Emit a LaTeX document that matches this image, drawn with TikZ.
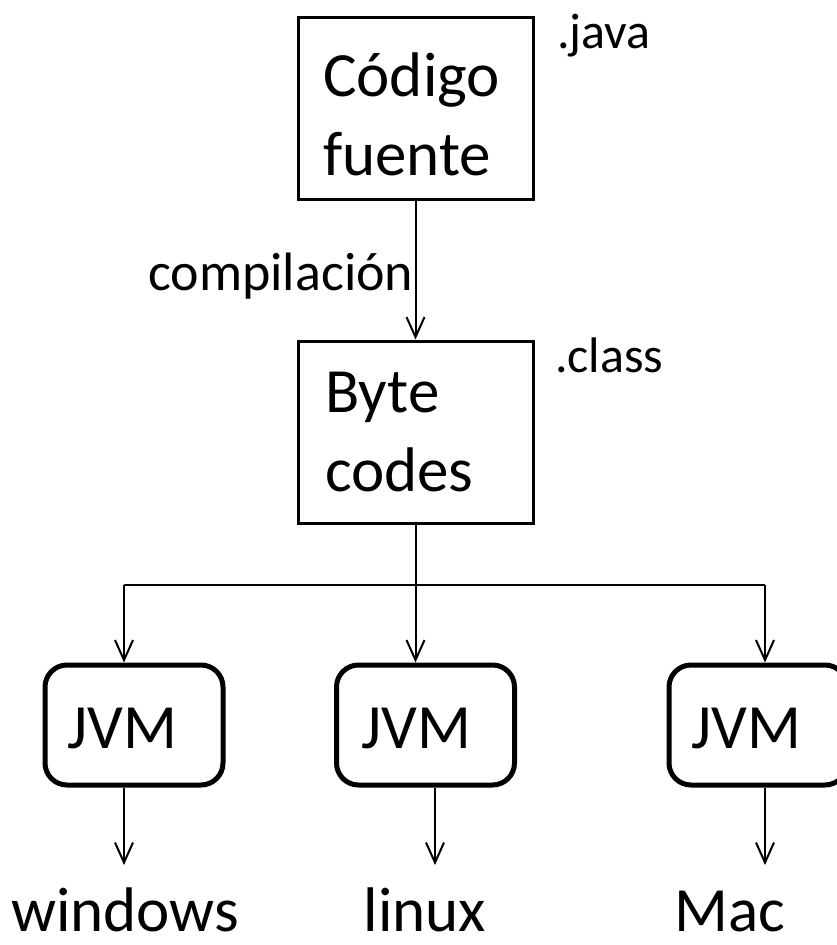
\documentclass[tikz,border=0pt]{standalone}
\usepackage{fontspec}
\setmainfont{Carlito}
\usetikzlibrary{arrows.meta}
\tikzset{
  sq/.style={draw=black, line width=3pt, minimum width=235pt, minimum height=182pt, inner sep=0pt},
  jvmbox/.style={draw=black, line width=5pt, rounded corners=22pt, minimum width=178pt, minimum height=120pt, inner sep=0pt},
  arr/.style={line width=2pt, -{Straight Barb[length=20pt,width=18pt,line width=2pt]}},
  ln/.style={line width=2pt},
  big/.style={font=\fontsize{63}{75}\selectfont, inner sep=0pt, anchor=base west},
  mid/.style={font=\fontsize{54}{64}\selectfont, inner sep=0pt, anchor=base west},
  small/.style={font=\fontsize{50}{60}\selectfont, inner sep=0pt, anchor=base west},
  lab/.style={font=\fontsize{63}{75}\selectfont, inner sep=0pt, anchor=base},
}
\begin{document}
\begin{tikzpicture}[x=1pt,y=-1pt]
\useasboundingbox (0,0) rectangle (836,945);
% boxes
\node[sq] (b1) at (415.5,108) {};
\node[sq] (b2) at (415.5,432) {};
\node[jvmbox] (j1) at (134,725) {};
\node[jvmbox] (j2) at (425.5,725) {};
\node[jvmbox] (j3) at (758,725) {};
% texts
\node[big] (t1) at (323,96) {Código};
\node[big] (t2) at (323,175) {fuente};
\node[big] (t3) at (325,412) {Byte};
\node[big] (t4) at (325,491) {codes};
\node[small] (java) at (557,48) {.java};
\node[small] (cls) at (555,372) {.class};
\node[mid] (comp) at (148,290) {compilación};
\node[big] (v1) at (67,748) {JVM};
\node[big] (v2) at (361,748) {JVM};
\node[big] (v3) at (691,748) {JVM};
\node[lab] (win) at (125,931) {windows};
\node[lab] (lin) at (425,931) {linux};
\node[lab] (mac) at (730,931) {Mac};
% connectors
\draw[arr] (b1.south) -- (b2.north);
\coordinate (bus) at (415.5,585);
\coordinate (bl) at (124,585);
\coordinate (br) at (765,585);
\draw[ln] (b2.south) -- (bus);
\draw[ln] (bl) -- (br);
\draw[arr] (bl) -- (bl |- j1.north);
\draw[arr] (bus) -- (bus |- j2.north);
\draw[arr] (br) -- (br |- j3.north);
\coordinate (e1) at (124,865);
\coordinate (e2) at (435,865);
\coordinate (e3) at (765,865);
\draw[arr] (j1.south -| e1) -- (e1);
\draw[arr] (j2.south -| e2) -- (e2);
\draw[arr] (j3.south -| e3) -- (e3);
\end{tikzpicture}
\end{document}
